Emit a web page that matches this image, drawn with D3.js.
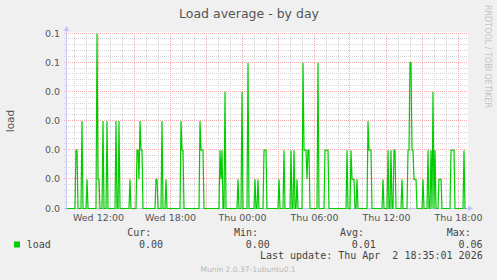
<!DOCTYPE html>
<html>
<head>
<meta charset="utf-8">
<script src="https://cdn.jsdelivr.net/npm/d3@7"></script>
<style>
  html, body { margin: 0; padding: 0; background: #f0f0f0; }
  svg { display: block; }
  text { font-family: "DejaVu Sans", sans-serif; }
  .mono { font-family: "DejaVu Sans Mono", monospace; white-space: pre; }
</style>
</head>
<body>
<div id="chart"></div>
<script>
// chart values (one sample per 5 minutes, Wed 09:25 -> Thu 18:40)
var title = "Load average - by day";
var seriesName = "load";
var startTime = new Date(2026, 3, 1, 9, 20); // Wed
var stepMinutes = 5;
var load = [
  0,0,0,0,0,0,0,0,0,.02, .02,0,0,0,0,.03,0,0,0,0,
  .01,0,0,0,0,0,0,0,0,0, .06,.01,.01,0,0,0,.03,0,0,0,
  .03,0,0,0,0,0,0,0,0,.03, 0,0,.03,0,0,0,0,0,0,0,
  0,0,0,.01,0,0,0,0,0,0, .02,.02,.01,.03,.02,.02,0,0,0,0,
  0,0,0,0,0,0,0,0,0,.01, .01,0,0,0,0,.03,0,0,0,.01,
  0,0,0,0,0,0,0,0,0,0, 0,0,0,0,.03,.02,.02,0,0,0,
  0,0,0,0,0,0,0,0,0,0, 0,0,0,.03,.02,.02,.02,0,0,0,
  0,0,0,0,0,0,0,0,0,0, 0,0,0,.02,.01,.02,0,0,.04,0,
  0,0,0,0,0,0,0,0,0,0, 0,.01,0,0,0,.04,0,0,0,0,
  0,.05,0,0,0,0,0,0,.01,0, 0,.01,0,0,0,0,0,.02,.02,.02,
  0,0,0,0,0,0,0,0,0,0, 0,0,.01,0,0,0,0,.02,0,0,
  0,0,0,0,.02,0,0,.02,0,0, .01,0,0,0,0,0,.05,.02,.02,.02,
  .01,.02,.02,0,0,0,0,0,0,0, 0,.05,0,0,0,0,0,0,.02,.02,
  .02,.02,0,0,0,0,0,0,0,0, 0,0,0,0,0,0,0,0,0,0,
  .02,0,0,0,.02,.01,.01,.01,0,0, .01,0,0,0,0,0,0,0,0,0,
  0,.03,.02,.02,.02,0,0,0,0,0, 0,0,0,0,0,0,.01,0,0,0,
  0,.02,0,0,.02,0,0,.02,.02,0, 0,0,0,0,0,.01,0,0,0,0,
  0,.02,.02,.05,.05,.02,.02,.01,.01,.01, 0,0,0,0,0,0,.01,0,0,0,
  0,.02,0,0,.02,0,.04,0,.02,0, 0,0,.01,.01,.01,0,0,0,0,0,
  0,0,0,0,.02,.02,.02,.02,0,0, 0,0,0,0,0,0,0,.02,0,0
];
var yTicks = [0, 0.01, 0.02, 0.03, 0.04, 0.05, 0.06];
var statNames = ["Cur:", "Min:", "Avg:", "Max:"];
var statValues = ["0.00", "0.00", "0.01", "0.06"];
var lastUpdate = "Last update: Thu Apr  2 18:35:01 2026";
var footer = "Munin 2.0.37-1ubuntu0.1";
var watermark = "RRDTOOL / TOBI OETIKER";

var width = 497, height = 280;
var plotLeft = 66, plotRight = 466, plotTop = 33, plotBottom = 208;

var svg = d3.select("#chart").append("svg")
  .attr("width", width)
  .attr("height", height);

svg.append("rect").attr("width", width).attr("height", height).attr("fill", "#f0f0f0");

var endTime = d3.timeMinute.offset(startTime, load.length * stepMinutes);
var x = d3.scaleTime().domain([startTime, endTime]).range([plotLeft, plotRight]);
var y = d3.scaleLinear().domain([0, 0.06]).range([plotBottom, plotTop]);

var data = load.map(function (v, i) {
  return { t: d3.timeMinute.offset(startTime, (i + 1) * stepMinutes), v: v };
});

// plot canvas
svg.append("rect")
  .attr("x", plotLeft).attr("y", plotTop - 1)
  .attr("width", plotRight - plotLeft + 2).attr("height", plotBottom - plotTop + 2)
  .attr("fill", "#ffffff");

var grid = svg.append("g").attr("shape-rendering", "crispEdges");
function px(v) { return Math.floor(v) + 0.5; }

// minor grid
var hours = d3.timeHour.every(1).range(startTime, endTime);
grid.selectAll(".vmin").data(hours.filter(function (d) { return d.getHours() % 3 != 0; }))
  .enter().append("line")
  .attr("x1", function (d) { return px(x(d)); }).attr("x2", function (d) { return px(x(d)); })
  .attr("y1", plotTop).attr("y2", plotBottom + 2)
  .attr("stroke", "#d6d6d6").attr("stroke-dasharray", "1,1");

var minorY = d3.range(0, 31).map(function (i) { return i * 0.002; })
  .filter(function (v, i) { return i % 5 != 0; });
grid.selectAll(".hmin").data(minorY).enter().append("line")
  .attr("x1", plotLeft - 2).attr("x2", plotRight + 1)
  .attr("y1", function (d) { return px(y(d)); }).attr("y2", function (d) { return px(y(d)); })
  .attr("stroke", "#d6d6d6").attr("stroke-dasharray", "1,1");

// major grid
grid.selectAll(".vmaj").data(hours.filter(function (d) { return d.getHours() % 3 == 0; }))
  .enter().append("line")
  .attr("x1", function (d) { return px(x(d)); }).attr("x2", function (d) { return px(x(d)); })
  .attr("y1", plotTop).attr("y2", plotBottom + 3)
  .attr("stroke", "#f4acac").attr("stroke-dasharray", "1,1");

grid.selectAll(".hmaj").data(yTicks).enter().append("line")
  .attr("x1", plotLeft - 2).attr("x2", plotRight + 1)
  .attr("y1", function (d) { return px(y(d)); }).attr("y2", function (d) { return px(y(d)); })
  .attr("stroke", "#f4acac").attr("stroke-dasharray", "1,1");

// y tick labels
svg.selectAll(".ylab").data(yTicks).enter().append("text")
  .attr("x", 60).attr("y", function (d) { return px(y(d)) + 3.5; })
  .attr("text-anchor", "end")
  .attr("font-size", "9.5px").attr("fill", "#555")
  .text(function (d) { return d3.format(".1f")(d + 1e-9); });

// x tick labels
var labelTimes = d3.timeHour.every(6).range(startTime, endTime);
svg.selectAll(".xlab").data(labelTimes).enter().append("text")
  .attr("x", function (d) { return x(d) + 0.5; }).attr("y", 221)
  .attr("text-anchor", "middle")
  .attr("font-size", "9.5px").attr("fill", "#555")
  .text(d3.timeFormat("%a %H:%M"));

// axes with arrows
var axisColor = "#c4c4f4";
svg.append("line").attr("x1", plotLeft - 2).attr("x2", plotRight + 3)
  .attr("y1", plotBottom + 0.5).attr("y2", plotBottom + 0.5).attr("stroke", axisColor);
svg.append("line").attr("x1", plotLeft + 0.5).attr("x2", plotLeft + 0.5)
  .attr("y1", plotTop - 3).attr("y2", plotBottom + 2).attr("stroke", axisColor);
svg.append("path").attr("d", "M" + (plotRight + 2) + "," + (plotBottom - 2.5) + "L" + (plotRight + 7) + "," + (plotBottom + 0.5) + "L" + (plotRight + 2) + "," + (plotBottom + 3.5) + "Z")
  .attr("fill", axisColor);
svg.append("path").attr("d", "M" + (plotLeft - 2.5) + "," + (plotTop - 2) + "L" + (plotLeft + 0.5) + "," + (plotTop - 7) + "L" + (plotLeft + 3.5) + "," + (plotTop - 2) + "Z")
  .attr("fill", axisColor);

// series line
var line = d3.line()
  .x(function (d) { return x(d.t); })
  .y(function (d) { return y(d.v) + 0.5; });
svg.append("path").datum(data)
  .attr("d", line)
  .attr("fill", "none")
  .attr("stroke", "#00cc00")
  .attr("stroke-width", 1.2);

// title and axis label
svg.append("text").attr("x", 249).attr("y", 18).attr("text-anchor", "middle")
  .attr("font-size", "12.5px").attr("fill", "#555").text(title);
svg.append("text").attr("transform", "translate(13.5,121) rotate(-90)")
  .attr("text-anchor", "middle").attr("font-size", "10.5px").attr("fill", "#555")
  .text(seriesName);
svg.append("text").attr("transform", "translate(485,5) rotate(90)")
  .attr("font-size", "8px").attr("fill", "#c4c4c4").text(watermark);

// legend
var statX = [127.3, 234, 340, 446.7];
svg.selectAll(".sname").data(statNames).enter().append("text")
  .attr("class", "mono").attr("x", function (d, i) { return statX[i]; }).attr("y", 236)
  .attr("font-size", "10px").attr("fill", "#444").text(function (d) { return d; });
svg.selectAll(".sval").data(statValues).enter().append("text")
  .attr("class", "mono").attr("x", function (d, i) { return statX[i] + 35.8; }).attr("y", 247.5)
  .attr("text-anchor", "end")
  .attr("font-size", "10px").attr("fill", "#444").text(function (d) { return d; });
svg.append("rect").attr("x", 14).attr("y", 241.5).attr("width", 6).attr("height", 6).attr("fill", "#00cc00");
svg.append("text").attr("class", "mono").attr("x", 26.7).attr("y", 247.5)
  .attr("font-size", "10px").attr("fill", "#444").text(seriesName);
svg.append("text").attr("class", "mono").attr("x", 482.7).attr("y", 259)
  .attr("text-anchor", "end")
  .attr("font-size", "10px").attr("fill", "#444").text(lastUpdate);
svg.append("text").attr("x", 248).attr("y", 272).attr("text-anchor", "middle")
  .attr("font-size", "7.5px").attr("fill", "#b8b8b8").text(footer);
</script>
</body>
</html>
